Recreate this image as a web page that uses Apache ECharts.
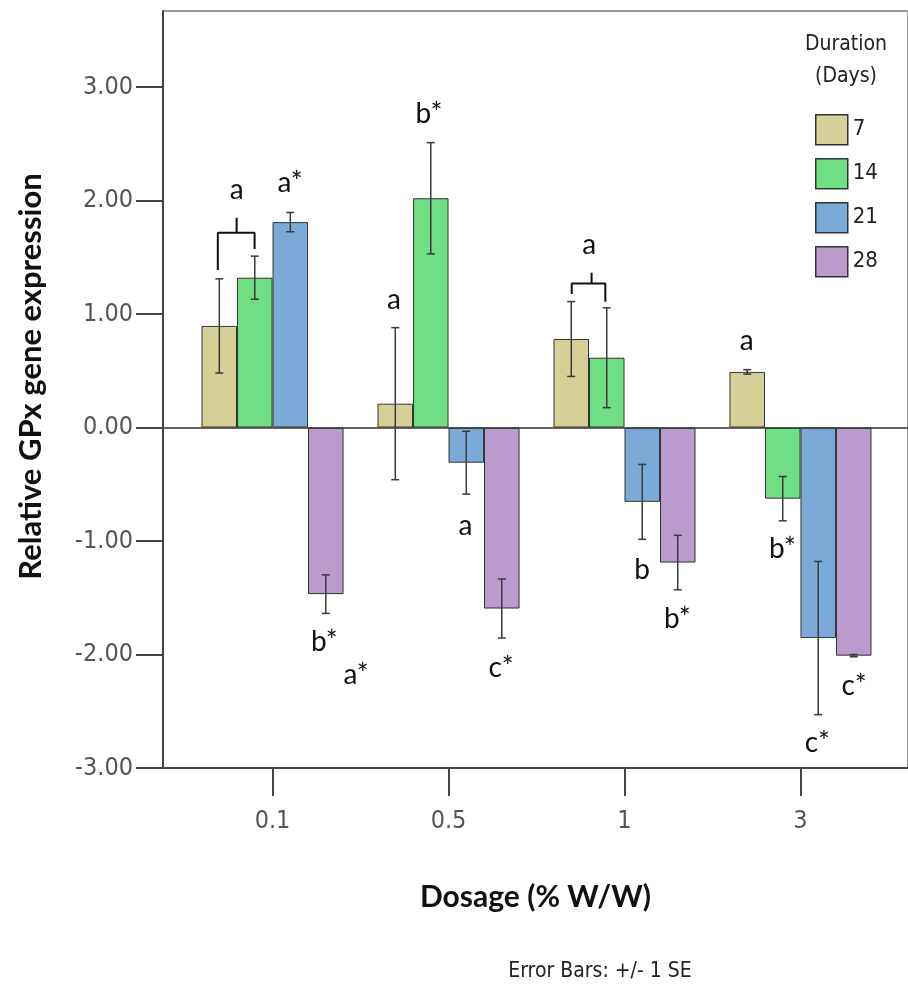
<!DOCTYPE html>
<html>
<head>
<meta charset="utf-8">
<title>Relative GPx gene expression</title>
<script src="https://cdn.jsdelivr.net/npm/echarts@6/dist/echarts.min.js"></script>
<style>
  html, body { margin: 0; padding: 0; background: #fff; }
  #main { width: 908px; height: 985px; }
</style>
</head>
<body>
<div id="main"></div>
<script>
// dosage groups (% W/W) sit at positions 1..4 on the x axis
const dosages = ['0.1', '0.5', '1', '3'];
const dosagePos = [1, 2, 3, 4];
const durations = ['7', '14', '21', '28'];
const yTicks = [-3, -2, -1, 0, 1, 2, 3];

// mean relative expression, one array per duration (days)
const mean7 = [0.895, 0.21, 0.78, 0.49];
const mean14 = [1.32, 2.02, 0.615, -0.627];
const mean21 = [1.81, -0.31, -0.655, -1.855];
const mean28 = [-1.468, -1.595, -1.19, -2.01];

// +/- 1 SE
const se7 = [0.415, 0.67, 0.33, 0.02];
const se14 = [0.19, 0.49, 0.44, 0.195];
const se21 = [0.085, 0.277, 0.33, 0.675];
const se28 = [0.17, 0.26, 0.24, 0.01];

// significance letters, [x, y, text] in axis units
const letters = [
  [0.796, 2.09, 'a'], [1.10, 2.155, 'a*'], [1.294, -1.89, 'b*'], [1.475, -2.18, 'a*'],
  [1.69, 1.123, 'a'], [1.889, 2.76, 'b*'], [2.096, -0.868, 'a'], [2.299, -2.12, 'c*'],
  [2.80, 1.608, 'a'], [3.10, -1.256, 'b'], [3.30, -1.687, 'b*'],
  [3.694, 0.762, 'a'], [3.898, -1.07, 'b*'], [4.096, -2.78, 'c*'], [4.305, -2.28, 'c*']
];

// brackets joining bars that share a letter
const brackets = [
  [[0.689, 1.388], [0.689, 1.716], [0.898, 1.716], [0.898, 1.573]],
  [[0.796, 1.716], [0.796, 1.848]],
  [[2.700, 1.176], [2.700, 1.270], [2.891, 1.270], [2.891, 1.108]],
  [[2.813, 1.270], [2.813, 1.364]]
];

const means = [mean7, mean14, mean21, mean28];
const ses = [se7, se14, se21, se28];
const colors = ['#D5CF98', '#70DE83', '#7AABD8', '#BA9BCC'];
const BAR_W = 35.5;
const tickFont = "'DejaVu Sans Condensed', 'DejaVu Sans', sans-serif";

const barSeries = durations.map(function (d, k) {
  return {
    name: d,
    type: 'bar',
    barWidth: BAR_W,
    barGap: '0%',
    data: dosagePos.map(function (x, i) { return [x, means[k][i]]; }),
    itemStyle: { color: colors[k], borderColor: '#333', borderWidth: 1 },
    markLine: k === 0 ? {
      silent: true,
      symbol: 'none',
      label: { show: false },
      lineStyle: { color: '#333', type: 'solid', width: 1.5 },
      data: [{ yAxis: 0 }]
    } : undefined
  };
});

const errData = [];
durations.forEach(function (d, k) {
  dosagePos.forEach(function (x, i) {
    errData.push([x, means[k][i] - ses[k][i], means[k][i] + ses[k][i], k]);
  });
});

const errorSeries = {
  type: 'custom',
  z: 5,
  silent: true,
  data: errData,
  renderItem: function (params, api) {
    const shift = (api.value(3) - 1.5) * BAR_W;
    const lo = api.coord([api.value(0), api.value(1)]);
    const hi = api.coord([api.value(0), api.value(2)]);
    const cx = lo[0] + shift;
    const st = { stroke: '#3a3a3a', lineWidth: 1.5 };
    return {
      type: 'group',
      children: [
        { type: 'line', shape: { x1: cx, y1: hi[1], x2: cx, y2: lo[1] }, style: st },
        { type: 'line', shape: { x1: cx - 4, y1: hi[1], x2: cx + 4, y2: hi[1] }, style: st },
        { type: 'line', shape: { x1: cx - 4, y1: lo[1], x2: cx + 4, y2: lo[1] }, style: st }
      ]
    };
  }
};

const letterSeries = {
  type: 'custom',
  z: 6,
  silent: true,
  data: letters,
  renderItem: function (params, api) {
    const p = api.coord([api.value(0), api.value(1)]);
    return {
      type: 'text',
      x: p[0],
      y: p[1],
      style: {
        text: letters[params.dataIndex][2],
        fill: '#111',
        font: "28px 'Lato', 'Open Sans', sans-serif",
        align: 'center',
        verticalAlign: 'middle'
      }
    };
  }
};

const bracketSeries = brackets.map(function (pts) {
  return {
    type: 'line',
    silent: true,
    symbol: 'none',
    z: 6,
    data: pts,
    lineStyle: { color: '#111', width: 2 }
  };
});

const chart = echarts.init(document.getElementById('main'));
chart.setOption({
  animation: false,
  backgroundColor: '#fff',
  grid: {
    left: 163, right: -3, top: 11, bottom: 217,
    show: true, borderColor: '#9a9a9a', borderWidth: 2
  },
  legend: {
    data: durations,
    orient: 'vertical',
    left: 815, top: 114,
    padding: 0,
    icon: 'rect',
    itemWidth: 32, itemHeight: 30, itemGap: 12.5,
    itemStyle: { borderColor: '#333', borderWidth: 1.5 },
    textStyle: { fontFamily: tickFont, fontSize: 22, color: '#222' }
  },
  graphic: [
    { type: 'text', x: 846, y: 45, style: { text: 'Duration', font: "21px " + tickFont, fill: '#222', align: 'center', verticalAlign: 'middle' } },
    { type: 'text', x: 846, y: 77, style: { text: '(Days)', font: "21px " + tickFont, fill: '#222', align: 'center', verticalAlign: 'middle' } },
    { type: 'text', x: 600, y: 972, style: { text: 'Error Bars: +/- 1 SE', font: "21px " + tickFont, fill: '#222', align: 'center', verticalAlign: 'middle' } }
  ],
  xAxis: {
    type: 'value',
    min: 0.3775,
    max: 4.611,
    name: 'Dosage (% W/W)',
    nameLocation: 'middle',
    nameGap: 114,
    nameTextStyle: { fontFamily: 'Lato, sans-serif', fontWeight: 'bold', fontSize: 30, color: '#111' },
    axisLine: { onZero: false, lineStyle: { color: '#444', width: 2 } },
    axisTick: { customValues: dosagePos, length: 28, lineStyle: { color: '#444', width: 2 } },
    axisLabel: {
      customValues: dosagePos,
      margin: 41,
      fontFamily: tickFont, fontSize: 25, color: '#555',
      formatter: function (v) { return dosages[Math.round(v) - 1]; }
    },
    splitLine: { show: false }
  },
  yAxis: {
    type: 'value',
    min: -3,
    max: 3.67,
    interval: 1,
    name: 'Relative GPx gene expression',
    nameLocation: 'middle',
    nameGap: 117,
    nameTextStyle: {
      fontFamily: 'Lato, sans-serif', fontWeight: 'bold', fontSize: 31, color: '#111',
      padding: [0, 0, 0, 26]
    },
    axisLine: { show: true, onZero: false, lineStyle: { color: '#444', width: 2 } },
    axisTick: { show: true, customValues: yTicks, length: 27, lineStyle: { color: '#444', width: 2 } },
    axisLabel: {
      customValues: yTicks,
      margin: 30,
      fontFamily: tickFont, fontSize: 25, color: '#555',
      formatter: function (v) { return v.toFixed(2); }
    },
    splitLine: { show: false }
  },
  series: barSeries.concat([errorSeries], bracketSeries, [letterSeries])
});
</script>
</body>
</html>
